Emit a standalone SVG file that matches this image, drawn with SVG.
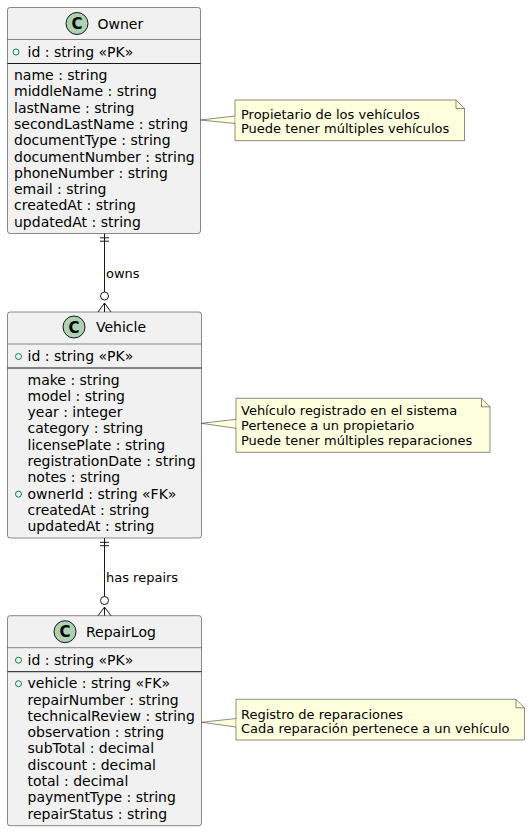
<svg xmlns="http://www.w3.org/2000/svg" width="532" height="832" viewBox="0 0 532 832">
<style>
.box{fill:#F1F1F1;stroke:#181818;stroke-width:0.5}
.hsep{stroke:#181818;stroke-width:0.5}
.sep{stroke:#181818;stroke-width:1}
.ico{fill:#ADD1B2;stroke:#181818;stroke-width:1}
.icot{font-family:"DejaVu Sans",sans-serif;font-size:15px;font-weight:bold;fill:#000;text-anchor:middle}
.title{font-family:"DejaVu Sans",sans-serif;font-size:14px;fill:#000}
.f{font-family:"DejaVu Sans",sans-serif;font-size:14px;fill:#000}
.vis{fill:none;stroke:#038048;stroke-width:1}
.note{fill:#FEFFDD;stroke:#181818;stroke-width:0.5}
.nt{font-family:"DejaVu Sans",sans-serif;font-size:13px;fill:#000}
.lbl{font-family:"DejaVu Sans",sans-serif;font-size:13px;fill:#000}
.ln{stroke:#181818;stroke-width:1;fill:none}
</style>

<g id="Owner">
<rect class="box" x="7.5" y="7.5" width="193" height="226" rx="2.5"/>
<circle class="ico" cx="77" cy="23.5" r="11"/>
<text class="icot" x="77" y="29">C</text>
<text class="title" x="97.5" y="28.5">Owner</text>
<line class="hsep" x1="7.5" y1="39.5" x2="200.5" y2="39.5"/>
<circle class="vis" cx="16" cy="52" r="3"/>
<text class="f" x="27.5" y="56.5">id : string «PK»</text>
<line class="sep" x1="7.5" y1="63.5" x2="200.5" y2="63.5"/>
<text class="f" x="14" y="80">name : string</text>
<text class="f" x="14" y="96.3">middleName : string</text>
<text class="f" x="14" y="112.6">lastName : string</text>
<text class="f" x="14" y="128.9">secondLastName : string</text>
<text class="f" x="14" y="145.2">documentType : string</text>
<text class="f" x="14" y="161.5">documentNumber : string</text>
<text class="f" x="14" y="177.8">phoneNumber : string</text>
<text class="f" x="14" y="194.1">email : string</text>
<text class="f" x="14" y="210.4">createdAt : string</text>
<text class="f" x="14" y="226.7">updatedAt : string</text>
</g>

<g id="Vehicle">
<rect class="box" x="7.5" y="312" width="194" height="226" rx="2.5"/>
<circle class="ico" cx="74" cy="327" r="11"/>
<text class="icot" x="74" y="332.5">C</text>
<text class="title" x="96" y="332">Vehicle</text>
<line class="hsep" x1="7.5" y1="344" x2="201.5" y2="344"/>
<circle class="vis" cx="18.5" cy="356.5" r="3"/>
<text class="f" x="27.5" y="361">id : string «PK»</text>
<line class="sep" x1="7.5" y1="368" x2="201.5" y2="368"/>
<text class="f" x="27.5" y="384.5">make : string</text>
<text class="f" x="27.5" y="400.8">model : string</text>
<text class="f" x="27.5" y="417.1">year : integer</text>
<text class="f" x="27.5" y="433.4">category : string</text>
<text class="f" x="27.5" y="449.7">licensePlate : string</text>
<text class="f" x="27.5" y="466">registrationDate : string</text>
<text class="f" x="27.5" y="482.3">notes : string</text>
<circle class="vis" cx="18.5" cy="494.1" r="3"/>
<text class="f" x="27.5" y="498.6">ownerId : string «FK»</text>
<text class="f" x="27.5" y="514.9">createdAt : string</text>
<text class="f" x="27.5" y="531.2">updatedAt : string</text>
</g>

<g id="RepairLog">
<rect class="box" x="7.5" y="615.7" width="194" height="210" rx="2.5"/>
<circle class="ico" cx="65" cy="631.7" r="11"/>
<text class="icot" x="65" y="637.2">C</text>
<text class="title" x="86" y="636.7">RepairLog</text>
<line class="hsep" x1="7.5" y1="647.7" x2="201.5" y2="647.7"/>
<circle class="vis" cx="18.5" cy="660.2" r="3"/>
<text class="f" x="27.5" y="664.7">id : string «PK»</text>
<line class="sep" x1="7.5" y1="671.7" x2="201.5" y2="671.7"/>
<circle class="vis" cx="18.5" cy="683.7" r="3"/>
<text class="f" x="27.5" y="688.2">vehicle : string «FK»</text>
<text class="f" x="27.5" y="704.5">repairNumber : string</text>
<text class="f" x="27.5" y="720.8">technicalReview : string</text>
<text class="f" x="27.5" y="737.1">observation : string</text>
<text class="f" x="27.5" y="753.4">subTotal : decimal</text>
<text class="f" x="27.5" y="769.7">discount : decimal</text>
<text class="f" x="27.5" y="786">total : decimal</text>
<text class="f" x="27.5" y="802.3">paymentType : string</text>
<text class="f" x="27.5" y="818.6">repairStatus : string</text>
</g>

<g id="note1">
<path class="ln" d="M200.5,120 L235,116 L235,123.5 Z" style="fill:#FEFFDD;stroke-width:0.5"/>
<path class="note" d="M235,100 L456,100 L464.5,108.5 L464.5,140.7 L235,140.7 Z"/>
<path class="note" d="M456,100 L456,108.5 L464.5,108.5" style="fill:none"/>
<line x1="235" y1="116.3" x2="235" y2="123.2" stroke="#FEFFDD" stroke-width="1"/>
<text class="nt" x="241" y="118.5">Propietario de los vehículos</text>
<text class="nt" x="241" y="133">Puede tener múltiples vehículos</text>
</g>

<g id="note2">
<path class="ln" d="M201.5,423.3 L236,419.3 L236,428.3 Z" style="fill:#FEFFDD;stroke-width:0.5"/>
<path class="note" d="M236,398.3 L481.5,398.3 L490,406.8 L490,452.3 L236,452.3 Z"/>
<path class="note" d="M481.5,398.3 L481.5,406.8 L490,406.8" style="fill:none"/>
<line x1="236" y1="419.6" x2="236" y2="428" stroke="#FEFFDD" stroke-width="1"/>
<text class="nt" x="241" y="414.5">Vehículo registrado en el sistema</text>
<text class="nt" x="241" y="429.7">Pertenece a un propietario</text>
<text class="nt" x="241" y="444.9">Puede tener múltiples reparaciones</text>
</g>

<g id="note3">
<path class="ln" d="M201.5,722.3 L236,718.5 L236,727 Z" style="fill:#FEFFDD;stroke-width:0.5"/>
<path class="note" d="M236,699.3 L516,699.3 L524.5,707.8 L524.5,740 L236,740 Z"/>
<path class="note" d="M516,699.3 L516,707.8 L524.5,707.8" style="fill:none"/>
<line x1="236" y1="718.8" x2="236" y2="726.7" stroke="#FEFFDD" stroke-width="1"/>
<text class="nt" x="241" y="718.5">Registro de reparaciones</text>
<text class="nt" x="241" y="733">Cada reparación pertenece a un vehículo</text>
</g>

<g id="connectors">
<path class="ln" d="M104.5,233.5 L104.5,292"/>
<line class="ln" x1="100" y1="237.8" x2="109" y2="237.8"/>
<line class="ln" x1="100" y1="241.2" x2="109" y2="241.2"/>
<circle class="ln" cx="104.5" cy="296" r="4"/>
<path class="ln" d="M104.5,303 L104.5,312 M104.5,303 L98,312 M104.5,303 L111,312"/>
<text class="lbl" x="106" y="277.5">owns</text>

<path class="ln" d="M104.5,538 L104.5,596.5"/>
<line class="ln" x1="100" y1="542.3" x2="109" y2="542.3"/>
<line class="ln" x1="100" y1="545.7" x2="109" y2="545.7"/>
<circle class="ln" cx="104.5" cy="600.5" r="4"/>
<path class="ln" d="M104.5,607 L104.5,615.7 M104.5,607 L98,615.7 M104.5,607 L111,615.7"/>
<text class="lbl" x="106" y="581.8">has repairs</text>
</g>
</svg>
